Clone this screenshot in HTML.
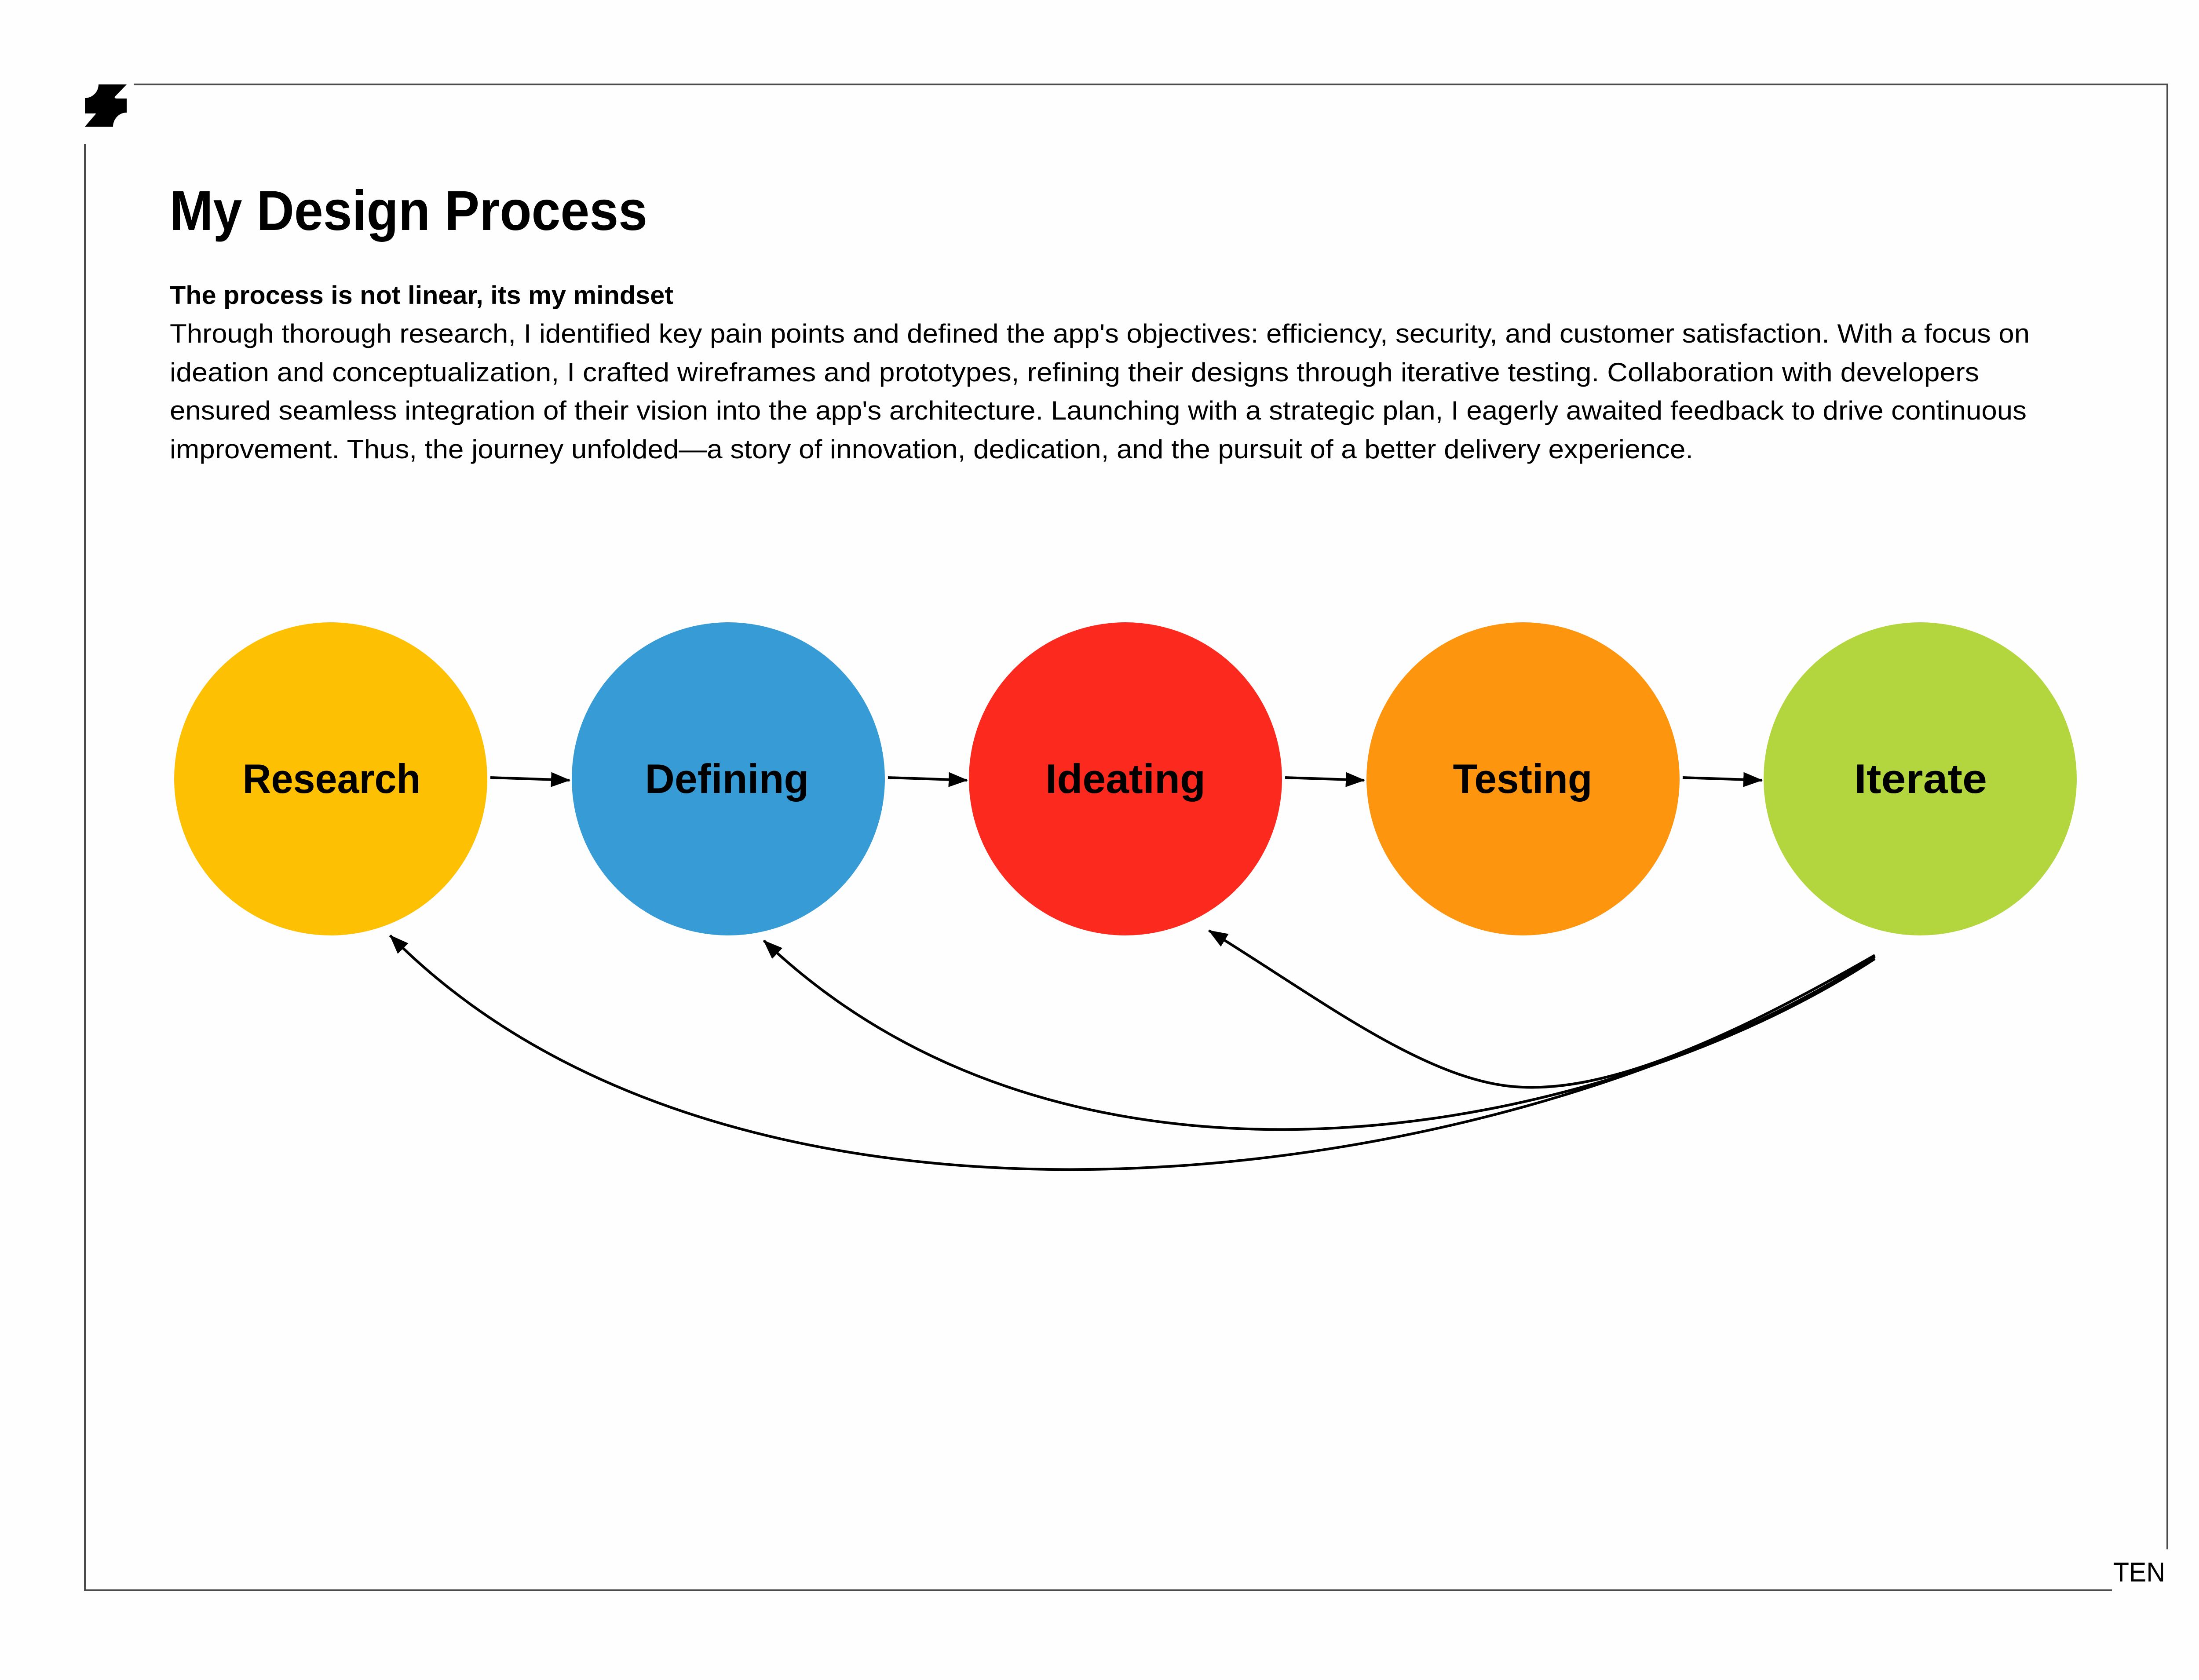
<!DOCTYPE html>
<html><head><meta charset="utf-8"><style>
html,body{margin:0;padding:0;background:#fefefe;}
svg{display:block;}
</style></head><body>
<svg width="5120" height="3820" viewBox="0 0 5120 3820" xmlns="http://www.w3.org/2000/svg">
<defs>
<marker id="ah" markerWidth="44" markerHeight="34" refX="42" refY="17" orient="auto" markerUnits="userSpaceOnUse">
<path d="M0,0 L44,17 L0,34 Z" fill="#000"/>
</marker>
</defs>
<rect width="5120" height="3820" fill="#fefefe"/>
<g stroke="#4d4d4d" stroke-width="4" fill="none">
<line x1="304" y1="192" x2="4928" y2="192"/>
<line x1="4928" y1="190" x2="4928" y2="3523"/>
<line x1="193" y1="328" x2="193" y2="3616"/>
<line x1="191" y1="3616" x2="4802" y2="3616"/>
</g>
<text x="4805" y="3596" font-family="Liberation Sans, sans-serif" font-size="62" textLength="118" lengthAdjust="spacingAndGlyphs">TEN</text>
<path d="M224,192 L288,192 L262,219 Q258,224 266,224 L288,224 L288,256 A31,32 0 0 0 257,288 L193,288 L217,260 Q220,257 212,258 L193,258 L193,223 A31,31 0 0 0 224,192 Z" fill="#000"/>
<g font-family="Liberation Sans, sans-serif" fill="#000">
<text x="386" y="523" font-size="128" font-weight="bold" textLength="1086" lengthAdjust="spacingAndGlyphs">My Design Process</text>
<text x="386" y="691" font-size="58" font-weight="bold" textLength="1145" lengthAdjust="spacingAndGlyphs">The process is not linear, its my mindset</text>
<g font-size="60">
<text x="386" y="779" textLength="4229" lengthAdjust="spacingAndGlyphs">Through thorough research, I identified key pain points and defined the app's objectives: efficiency, security, and customer satisfaction. With a focus on</text>
<text x="386" y="867" textLength="4114" lengthAdjust="spacingAndGlyphs">ideation and conceptualization, I crafted wireframes and prototypes, refining their designs through iterative testing. Collaboration with developers</text>
<text x="386" y="954" textLength="4222" lengthAdjust="spacingAndGlyphs">ensured seamless integration of their vision into the app's architecture. Launching with a strategic plan, I eagerly awaited feedback to drive continuous</text>
<text x="386" y="1042" textLength="3464" lengthAdjust="spacingAndGlyphs">improvement. Thus, the journey unfolded—a story of innovation, dedication, and the pursuit of a better delivery experience.</text>
</g>
</g>
<circle cx="752" cy="1771" r="356" fill="#fec003"/>
<circle cx="1656" cy="1771" r="356" fill="#379bd6"/>
<circle cx="2559" cy="1771" r="356" fill="#fc2a1e"/>
<circle cx="3463" cy="1771" r="356" fill="#fd950f"/>
<circle cx="4366" cy="1771" r="356" fill="#b3d53d"/>
<g font-family="Liberation Sans, sans-serif" font-weight="bold" font-size="94" text-anchor="middle" fill="#000">
<text x="754" y="1803" textLength="405" lengthAdjust="spacingAndGlyphs">Research</text>
<text x="1653" y="1803" textLength="373" lengthAdjust="spacingAndGlyphs">Defining</text>
<text x="2559" y="1803" textLength="364" lengthAdjust="spacingAndGlyphs">Ideating</text>
<text x="3462" y="1803" textLength="317" lengthAdjust="spacingAndGlyphs">Testing</text>
<text x="4367" y="1803" textLength="302" lengthAdjust="spacingAndGlyphs">Iterate</text>
</g>
<g stroke="#000" stroke-width="6" fill="none" marker-end="url(#ah)">
<line x1="1115" y1="1768" x2="1295" y2="1774"/>
<line x1="2019" y1="1768" x2="2199" y2="1774"/>
<line x1="2922" y1="1768" x2="3102" y2="1774"/>
<line x1="3826" y1="1768" x2="4006" y2="1774"/>
</g>
<g stroke="#000" stroke-width="6" fill="none" marker-end="url(#ah)">
<path d="M4263,2175 C3450,2700 1700,2950 887,2127"/>
<path d="M4263,2180 C3650,2580 2450,2820 1737,2139"/>
<path d="M4263,2172 C3900,2380 3650,2480 3462,2472 C3250,2465 3000,2270 2749,2116"/>
</g>
</svg>
</body></html>
